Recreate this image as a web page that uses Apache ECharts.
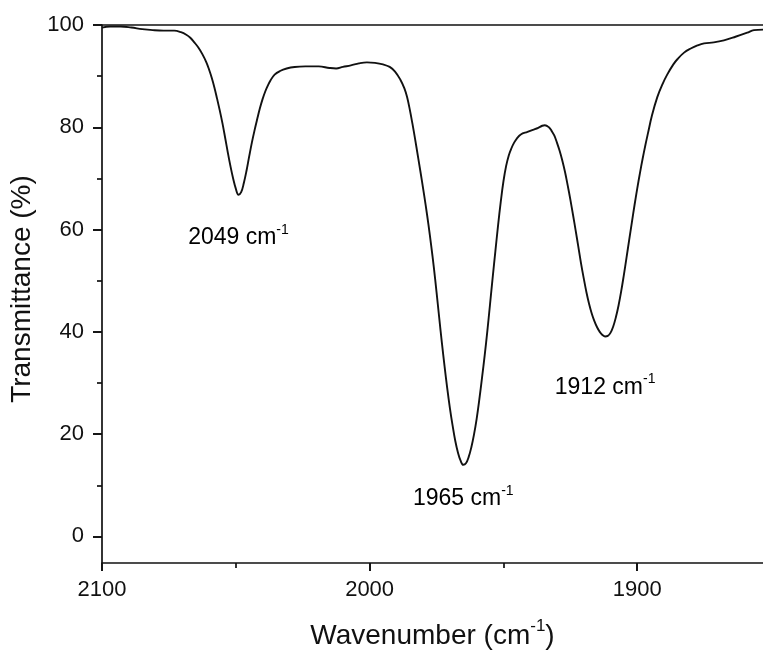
<!DOCTYPE html>
<html>
<head>
<meta charset="utf-8">
<script src="https://cdn.jsdelivr.net/npm/echarts@6/dist/echarts.min.js"></script>
<style>
html,body{margin:0;padding:0;background:#fff;}
#chart{width:763px;height:652px;}
</style>
</head>
<body>
<div id="chart"></div>
<script>
// ---- data ----
const wavenumber = [2100, 2097, 2093, 2089, 2085, 2081, 2077, 2073, 2070.5, 2068.5, 2067, 2065.5, 2064, 2062.5, 2061, 2060, 2059, 2058, 2057, 2056, 2055, 2054, 2053, 2052, 2051, 2050, 2049, 2048, 2047, 2046, 2045, 2044, 2043, 2042, 2041, 2040, 2039, 2038, 2037, 2035.5, 2033.5, 2031, 2028, 2024, 2019, 2015, 2012.5, 2010, 2007, 2004, 2001, 1998, 1995, 1992.5, 1990.5, 1988.5, 1987, 1986, 1985, 1984, 1983, 1982, 1981, 1980, 1979, 1978, 1977, 1976, 1975, 1974, 1973, 1972, 1971, 1970, 1969, 1968, 1967, 1966, 1965, 1964, 1963, 1962, 1961, 1960, 1959, 1958, 1957, 1956, 1955, 1954, 1953, 1952, 1951, 1950, 1949, 1948, 1947, 1946, 1945, 1943.5, 1941, 1939, 1937, 1935.5, 1934.5, 1933, 1932, 1931, 1930, 1929, 1928, 1927, 1926, 1925, 1924, 1923, 1922, 1921, 1920, 1919, 1918, 1917, 1916, 1915, 1914, 1913, 1912, 1911, 1910, 1909, 1908, 1907, 1906, 1905, 1904, 1903, 1902, 1901, 1900, 1899, 1898, 1897, 1896, 1894.5, 1892.5, 1890.5, 1888.8, 1886.5, 1885, 1882.5, 1880, 1877.5, 1875, 1871.4, 1867.6, 1863.3, 1858.9, 1856.4, 1853];
const transmittance = [99.5, 99.7, 99.7, 99.5, 99.2, 99.0, 98.9, 98.9, 98.6, 98.1, 97.5, 96.6, 95.6, 94.3, 92.7, 91.3, 89.7, 87.8, 85.6, 83.3, 80.8, 78.0, 75.1, 72.4, 70.0, 68.0, 66.8, 67.3, 69.1, 71.5, 74.3, 77.0, 79.4, 81.6, 83.7, 85.5, 87.0, 88.2, 89.2, 90.3, 91.0, 91.5, 91.8, 91.9, 91.9, 91.6, 91.5, 91.8, 92.1, 92.5, 92.7, 92.6, 92.3, 91.8, 90.9, 89.3, 87.6, 85.9, 83.5, 80.7, 77.7, 74.5, 71.3, 68.0, 64.6, 60.9, 56.9, 52.6, 47.8, 42.8, 37.9, 33.3, 29.0, 25.1, 21.7, 18.7, 16.4, 14.8, 14.0, 14.3, 15.5, 17.4, 19.9, 23.0, 26.8, 31.0, 35.4, 40.2, 45.4, 50.7, 55.8, 60.8, 65.4, 69.4, 72.4, 74.5, 75.9, 77.0, 77.8, 78.6, 79.1, 79.5, 79.9, 80.3, 80.4, 80.0, 79.3, 78.4, 77.0, 75.4, 73.5, 71.3, 68.7, 65.9, 62.9, 59.8, 56.6, 53.4, 50.5, 47.8, 45.5, 43.6, 42.1, 40.9, 40.0, 39.4, 39.1, 39.2, 39.8, 41.0, 42.8, 45.1, 47.9, 51.1, 54.5, 58.0, 61.4, 64.8, 68.0, 71.0, 73.8, 76.4, 78.8, 82.3, 85.9, 88.5, 90.3, 92.3, 93.3, 94.6, 95.4, 96.0, 96.4, 96.6, 97.0, 97.7, 98.5, 99.0, 99.1];
const peakWave = [2049, 1965, 1912];
const peakT = [66.8, 14.0, 39.1];
const xTickLabels = [2100, 2000, 1900];
const xMinorTicks = [2050, 1950];
const yTickLabels = [0, 20, 40, 60, 80, 100];
const yMinorTicks = [10, 30, 50, 70, 90];

const FONT = "'Liberation Sans', Arial, sans-serif";
const INK = '#000';
const labelOffsets = [[0, 43], [0, 34], [0, 51]];

const xMin = 1853, xMax = 2100, yMin = -5.2, yMax = 100;

const chart = echarts.init(document.getElementById('chart'), null, {renderer: 'canvas'});
const axisLineStyle = {color: '#111', width: 1.7};
const tickStyle = {color: '#111', width: 1.7};

function tickOnlyX(values, len) {
  return {
    type: 'value', inverse: true, min: xMin, max: xMax, position: 'bottom', gridIndex: 0,
    axisLine: {show: false, onZero: false},
    axisTick: {show: true, inside: false, length: len, customValues: values, lineStyle: tickStyle},
    axisLabel: {show: false}, splitLine: {show: false}
  };
}
function tickOnlyY(values, len) {
  return {
    type: 'value', min: yMin, max: yMax, position: 'left', offset: 0, gridIndex: 0,
    axisLine: {show: false, onZero: false},
    axisTick: {show: true, inside: false, length: len, customValues: values, lineStyle: tickStyle},
    axisLabel: {show: false}, splitLine: {show: false}
  };
}

const option = {
  backgroundColor: '#fff',
  animation: false,
  grid: {left: 102, right: 0, top: 25, bottom: 89, containLabel: false, outerBoundsMode: 'none'},
  xAxis: [
    {
      type: 'value', inverse: true, min: xMin, max: xMax, position: 'bottom',
      axisLine: {show: true, onZero: false, lineStyle: axisLineStyle},
      axisTick: {show: true, inside: false, length: 8, customValues: xTickLabels, lineStyle: tickStyle},
      axisLabel: {customValues: xTickLabels, margin: 16, fontSize: 22, fontFamily: FONT, color: '#111', formatter: v => String(v)},
      splitLine: {show: false},
      name: '{a|Wavenumber (cm}{b|-1}{a|)}',
      nameLocation: 'middle', nameGap: 55,
      nameTextStyle: {
        rich: {
          a: {fontSize: 28, fontFamily: FONT, color: '#111', lineHeight: 36},
          b: {fontSize: 17, fontFamily: FONT, color: '#111', verticalAlign: 'top', lineHeight: 17}
        }
      }
    },
    tickOnlyX(xMinorTicks, 5),
    tickOnlyX(xTickLabels, 8),
    {
      type: 'value', inverse: true, min: xMin, max: xMax, position: 'top', gridIndex: 0,
      axisLine: {show: true, onZero: false, lineStyle: axisLineStyle},
      axisTick: {show: false}, axisLabel: {show: false}, splitLine: {show: false}
    }
  ],
  yAxis: [
    {
      type: 'value', min: yMin, max: yMax, position: 'left',
      axisLine: {show: true, onZero: false, lineStyle: axisLineStyle},
      axisTick: {show: true, inside: false, length: 9, customValues: yTickLabels, lineStyle: tickStyle},
      axisLabel: {customValues: yTickLabels, margin: 18, fontSize: 22, fontFamily: FONT, color: '#111'},
      splitLine: {show: false},
      name: 'Transmittance (%)',
      nameLocation: 'middle', nameGap: 59, nameRotate: 90,
      nameTextStyle: {fontSize: 28, fontFamily: FONT, color: '#111', padding: [0, 0, 0, 10]}
    },
    tickOnlyY(yMinorTicks, 5),
    tickOnlyY(yTickLabels, 9)
  ],
  series: [
    {
      type: 'line', xAxisIndex: 0, yAxisIndex: 0,
      data: wavenumber.map((w, i) => [w, transmittance[i]]),
      smooth: 0.4, showSymbol: false, symbol: 'none',
      lineStyle: {color: '#111', width: 1.9},
      clip: true, z: 3
    },
    {
      type: 'scatter', xAxisIndex: 0, yAxisIndex: 0,
      symbolSize: 0.01, itemStyle: {color: '#000', opacity: 1},
      silent: true,
      data: peakWave.map((w, i) => ({
        value: [w, peakT[i]],
        label: {offset: labelOffsets[i]}
      })),
      label: {
        show: true, position: 'inside', color: INK, opacity: 1,
        formatter: p => '{a|' + p.value[0] + ' cm}{b|-1}',
        rich: {
          a: {fontSize: 23, fontFamily: FONT, color: INK, lineHeight: 30},
          b: {fontSize: 14, fontFamily: FONT, color: INK, verticalAlign: 'top', lineHeight: 14}
        }
      },
      z: 4
    }
  ]
};
chart.setOption(option);
</script>
</body>
</html>
